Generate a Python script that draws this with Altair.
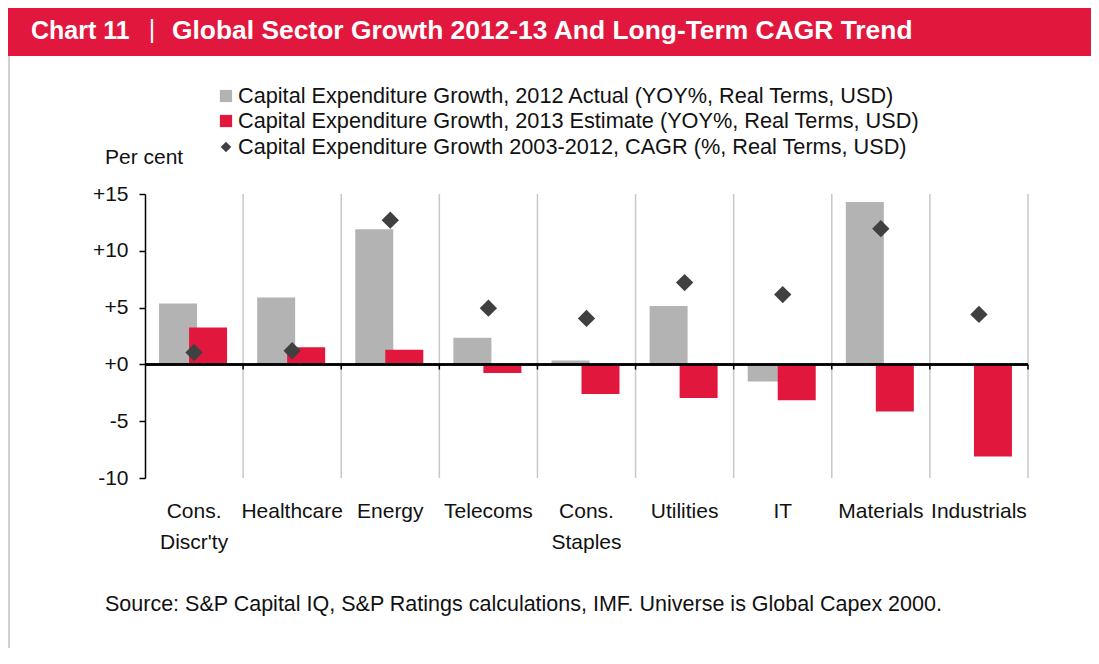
import altair as alt
import pandas as pd

sectors = ["Cons.|Discr'ty", "Healthcare", "Energy", "Telecoms", "Cons.|Staples",
           "Utilities", "IT", "Materials", "Industrials"]
actual_2012 = [5.35, 5.9, 11.9, 2.35, 0.35, 5.15, -1.5, 14.3, 0.0]
estimate_2013 = [3.25, 1.5, 1.3, -0.75, -2.6, -2.95, -3.15, -4.15, -8.1]
cagr_2003_2012 = [1.05, 1.2, 12.7, 4.95, 4.05, 7.2, 6.15, 11.95, 4.4]

series_names = [
    "Capital Expenditure Growth, 2012 Actual (YOY%, Real Terms, USD)",
    "Capital Expenditure Growth, 2013 Estimate (YOY%, Real Terms, USD)",
    "Capital Expenditure Growth 2003-2012, CAGR (%, Real Terms, USD)",
]
title_parts = ["Chart 11", "|", "Global Sector Growth 2012-13 And Long-Term CAGR Trend"]
source_text = "Source: S&P Capital IQ, S&P Ratings calculations, IMF. Universe is Global Capex 2000."
y_ticks = [-10, -5, 0, 5, 10, 15]

GRAY = "#B3B3B3"
RED = "#E2173D"
DARK = "#404040"
FONT = "Liberation Sans"
TXT = "#111111"

W, H = 883, 284
PAD_RIGHT = 63

df = pd.DataFrame({
    "sector": sectors,
    "actual": actual_2012,
    "estimate": estimate_2013,
    "cagr": cagr_2003_2012,
})

xenc = alt.X("sector:N", sort=sectors,
             scale=alt.Scale(paddingInner=0, paddingOuter=0),
             axis=alt.Axis(title=None, orient="bottom", domain=False, ticks=False, grid=False,
                           labelAngle=0, labelAlign="center", bandPosition=0.5,
                           labelFont=FONT, labelFontSize=21, labelColor=TXT,
                           labelPadding=22, labelLineHeight=31, labelBaseline="top",
                           labelExpr="split(datum.label, '|')"))
yscale = alt.Scale(domain=[-10, 15], nice=False)
yenc_axis = alt.Axis(title=None, values=y_ticks, grid=False, domain=True, domainColor="#000000",
                     domainWidth=1.5, ticks=True, tickColor="#000000", tickSize=6, tickWidth=1.5,
                     labelFont=FONT, labelFontSize=21, labelColor=TXT, labelPadding=11,
                     labelExpr="(datum.value >= 0 ? '+' : '-') + abs(datum.value)")

base = alt.Chart(df)

grid = base.mark_rule(color="#C8C8C8", strokeWidth=1.5).encode(
    x=alt.X("sector:N", sort=sectors, bandPosition=1),
    y=alt.Y(datum=15, scale=yscale),
    y2=alt.Y2(datum=-10),
)

bars_2012 = base.mark_bar(color=GRAY, width=38, xOffset=-16).encode(
    x=xenc,
    y=alt.Y("actual:Q", scale=yscale, axis=yenc_axis),
)
bars_2013 = base.mark_bar(color=RED, width=38, xOffset=14).encode(
    x=alt.X("sector:N", sort=sectors),
    y=alt.Y("estimate:Q", scale=yscale),
)
zero_line = base.mark_rule(color="#000000", strokeWidth=1.5).encode(y=alt.Y(datum=0, scale=yscale))
zero_ticks = base.mark_rule(color="#000000", strokeWidth=1.5).encode(
    x=alt.X("sector:N", sort=sectors, bandPosition=1),
    y=alt.Y(datum=0, scale=yscale),
    y2=alt.Y2(datum=-0.45),
)
diamonds = base.mark_point(shape="diamond", filled=True, size=300, color=DARK, opacity=1).encode(
    x=alt.X("sector:N", sort=sectors),
    y=alt.Y("cagr:Q", scale=yscale),
)

one = alt.Chart(pd.DataFrame({"k": [0]}))

header = one.mark_rect(color=RED).encode(
    x=alt.value(-137), x2=alt.value(W + PAD_RIGHT), y=alt.value(-186), y2=alt.value(-138))
border = one.mark_rule(color="#C0C0C0", strokeWidth=1.5).encode(
    x=alt.value(-136), y=alt.value(-138), y2=alt.value(470))
title_a = one.mark_text(text=title_parts[0], font=FONT, fontSize=25, fontWeight="bold", color="white",
                        align="left", baseline="middle").encode(x=alt.value(-114), y=alt.value(-163))
title_b = one.mark_text(text=title_parts[1], font=FONT, fontSize=25, color="white",
                        align="center", baseline="middle").encode(x=alt.value(7), y=alt.value(-164))
title_c = one.mark_text(text=title_parts[2], font=FONT, fontSize=26.4, fontWeight="bold", color="white",
                        align="left", baseline="middle").encode(x=alt.value(27), y=alt.value(-163))

legend_layers = []
leg_shapes = ["square", "square", "diamond"]
leg_colors = [GRAY, RED, DARK]
leg_sizes = [150, 150, 110]
leg_y = [-98, -73, -47]
for name, shp, col, sz, yy in zip(series_names, leg_shapes, leg_colors, leg_sizes, leg_y):
    legend_layers.append(one.mark_point(shape=shp, filled=True, size=sz, color=col, opacity=1)
                         .encode(x=alt.value(81), y=alt.value(yy)))
    legend_layers.append(one.mark_text(text=name, font=FONT, fontSize=21.7, color=TXT,
                                       align="left", baseline="middle")
                         .encode(x=alt.value(93), y=alt.value(yy)))

per_cent = one.mark_text(text="Per cent", font=FONT, fontSize=21, color=TXT,
                         align="left", baseline="middle").encode(x=alt.value(-40), y=alt.value(-36))
source = one.mark_text(text=source_text, font=FONT, fontSize=21.5, color=TXT,
                       align="left", baseline="middle").encode(x=alt.value(-40), y=alt.value(411))

chart = alt.layer(
    header, border, title_a, title_b, title_c, *legend_layers, per_cent, source,
    grid, bars_2012, bars_2013, zero_line, zero_ticks, diamonds,
).properties(
    width=W, height=H,
    padding={"left": 137, "top": 186, "right": PAD_RIGHT, "bottom": 170},
    autosize=alt.AutoSizeParams(type="none"),
    background="white",
).configure_view(stroke=None)

chart.save("out.html", embed_options={"renderer": "svg", "actions": False})
